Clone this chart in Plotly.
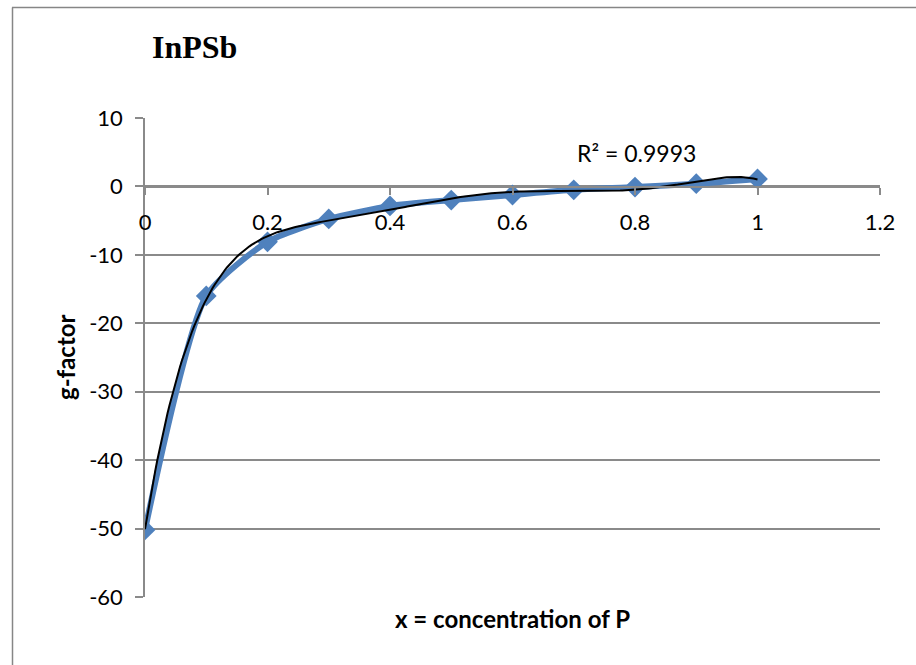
import numpy as np
import plotly.graph_objects as go

# ---- data ----
x_conc = [0.0, 0.1, 0.2, 0.3, 0.4, 0.5, 0.6, 0.7, 0.8, 0.9, 1.0]
g_factor = [-50.2, -16.0, -8.1, -4.75, -2.85, -2.0, -1.25, -0.5, -0.1, 0.4, 1.1]
y_tick_vals = [10, 0, -10, -20, -30, -40, -50, -60]
y_tick_text = ["10", "0", "-10", "-20", "-30", "-40", "-50", "-60"]
x_tick_vals = [0, 0.2, 0.4, 0.6, 0.8, 1.0, 1.2]
x_tick_text = ["0", "0.2", "0.4", "0.6", "0.8", "1", "1.2"]
trend_degree = 6
r2_label = "R² = 0.9993"

# polynomial trendline fitted to the data (as the spreadsheet does)
coef = np.polyfit(x_conc, g_factor, trend_degree)
x_fit = np.linspace(min(x_conc), max(x_conc), 300)
y_fit = np.polyval(coef, x_fit)

W, H = 916, 665
L, R, T, B = 145, 36, 118, 68
PW, PH = W - L - R, H - T - B

def px(xp):
    return (xp - L) / PW

def py(yp):
    return (H - B - yp) / PH

FONT = "Lato, Carlito, Calibri, sans-serif"
GRID = "#8a8a8a"

fig = go.Figure()
fig.add_trace(go.Scatter(
    x=x_conc, y=g_factor, mode="lines+markers",
    line=dict(color="#4F81BD", width=6, shape="spline", smoothing=0.6),
    marker=dict(symbol="diamond", size=16, color="#4F81BD"),
    showlegend=False, hoverinfo="x+y",
))
fig.add_trace(go.Scatter(
    x=x_fit, y=y_fit, mode="lines",
    line=dict(color="black", width=2),
    showlegend=False, hoverinfo="skip",
))

fig.update_layout(
    width=W, height=H,
    margin=dict(l=L, r=R, t=T, b=B, pad=0),
    paper_bgcolor="white", plot_bgcolor="white",
    font=dict(family=FONT, size=22, color="black"),
    xaxis=dict(
        range=[0, 1.2], tickvals=x_tick_vals, ticktext=x_tick_text,
        showgrid=False, zeroline=False,
        showline=True, linecolor=GRID, linewidth=1.5,
        ticks="outside", ticklen=7, tickcolor=GRID, tickwidth=1.5,
        anchor="free", position=py(187),
        ticklabelstandoff=9,
        tickfont=dict(family=FONT, size=22),
    ),
    yaxis=dict(
        range=[-60, 10], tickvals=y_tick_vals, ticktext=y_tick_text,
        showgrid=True, gridcolor=GRID, gridwidth=1.5, zeroline=False,
        showline=True, linecolor=GRID, linewidth=1.5,
        ticks="outside", ticklen=8, tickcolor=GRID, tickwidth=1.5,
        ticklabelstandoff=8,
        tickfont=dict(family=FONT, size=22),
    ),
    annotations=[
        dict(text="<b>InPSb</b>", xref="paper", yref="paper",
             x=px(150), y=py(47), xanchor="left", yanchor="middle",
             showarrow=False,
             font=dict(family="Liberation Serif, Times New Roman, serif", size=32)),
        dict(text="<b>g-factor</b>", xref="paper", yref="paper",
             x=px(65), y=py(357), xanchor="center", yanchor="middle",
             textangle=-90, showarrow=False,
             font=dict(family=FONT, size=24)),
        dict(text="<b>x = concentration of P</b>", xref="paper", yref="paper",
             x=0.5, y=py(618), xanchor="center", yanchor="middle",
             showarrow=False, font=dict(family=FONT, size=24)),
        dict(text=r2_label, xref="paper", yref="paper",
             x=px(636), y=py(153), xanchor="center", yanchor="middle",
             showarrow=False, font=dict(family=FONT, size=23)),
    ],
    shapes=[
        dict(type="line", xref="paper", yref="paper",
             x0=px(12), x1=px(W + 5), y0=py(7.5), y1=py(7.5),
             line=dict(color="#868686", width=1.5)),
        dict(type="line", xref="paper", yref="paper",
             x0=px(12.5), x1=px(12.5), y0=py(7.5), y1=py(H + 5),
             line=dict(color="#868686", width=1.5)),
    ],
)

fig.write_html(
    "out.html",
    config={"displayModeBar": False},
    post_script="document.body.style.margin='0';document.body.style.overflow='hidden';",
)
